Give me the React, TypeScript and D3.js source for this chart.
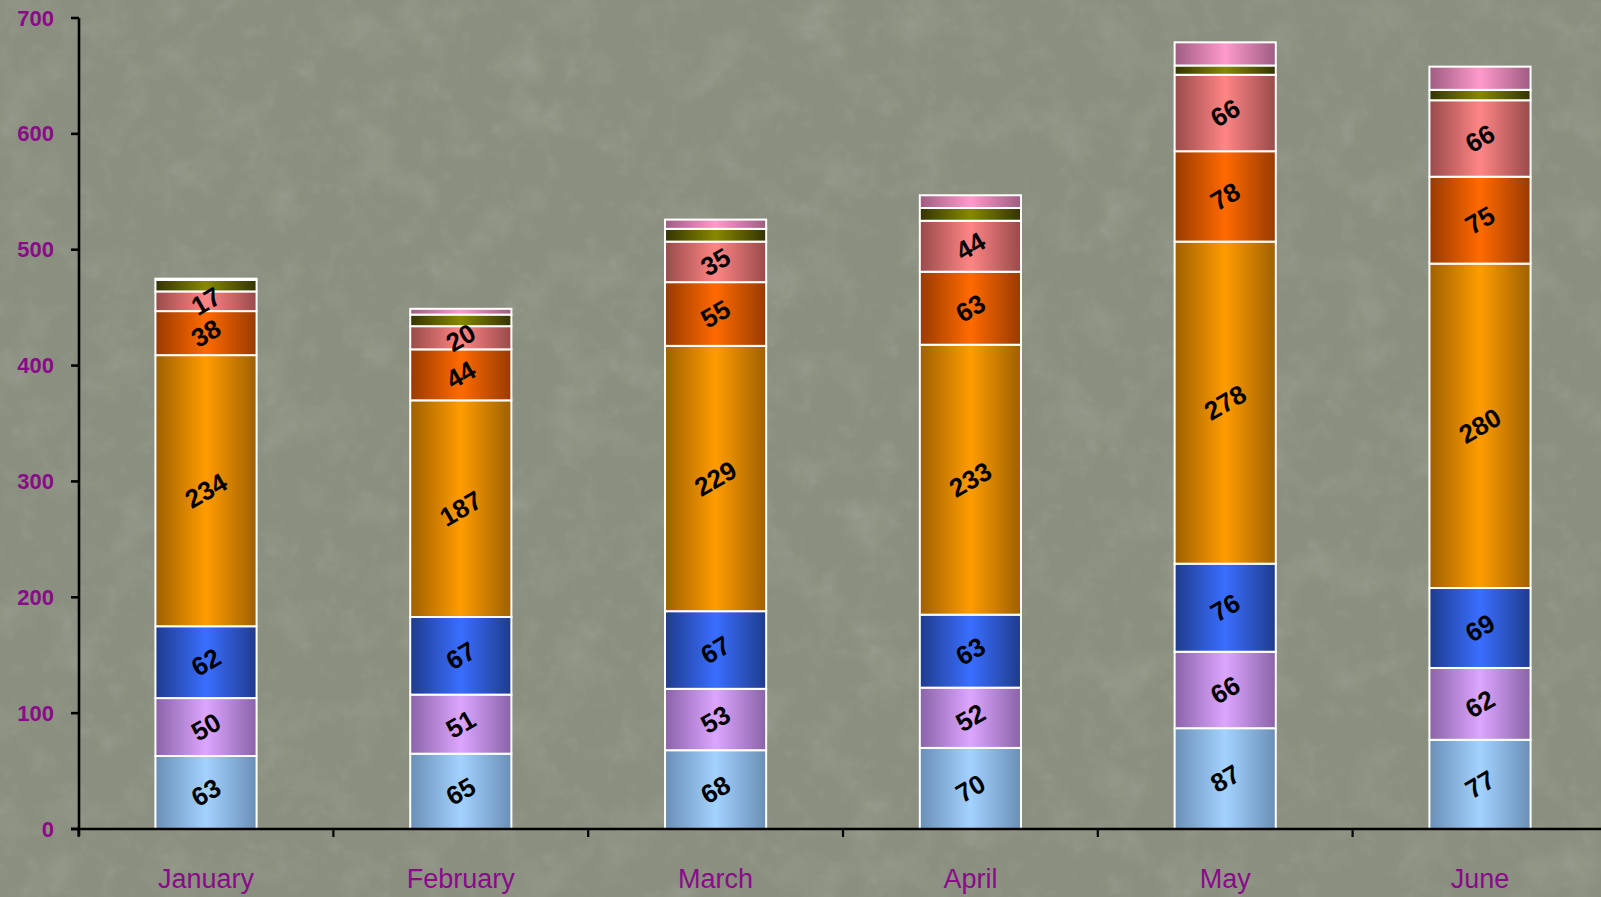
import React from 'react';
import * as d3 from 'd3';

const months = ['January', 'February', 'March', 'April', 'May', 'June'];
const seriesA = [63, 65, 68, 70, 87, 77];
const seriesB = [50, 51, 53, 52, 66, 62];
const seriesC = [62, 67, 67, 63, 76, 69];
const seriesD = [234, 187, 229, 233, 278, 280];
const seriesE = [38, 44, 55, 63, 78, 75];
const seriesF = [17, 20, 35, 44, 66, 66];
const seriesG = [10, 10, 11, 11, 8, 9];
const seriesH = [1, 5, 8, 11, 20, 20];
const yTicks = [0, 100, 200, 300, 400, 500, 600, 700];

const seriesList = [seriesA, seriesB, seriesC, seriesD, seriesE, seriesF, seriesG, seriesH];
const showLabel = [true, true, true, true, true, true, false, false];
const centerColors = ['#A3D2FF', '#DCA6FF', '#3A6EFF', '#FF9C00', '#FF6A00', '#FF8585', '#888800', '#FF9ACC'];
const edgeColors = ['#6A8FB6', '#8A63A8', '#1E3B8C', '#9E6000', '#983A00', '#984A4A', '#333300', '#9E5C80'];

const W = 1601;
const H = 897;

export default function App() {
  const y = d3.scaleLinear().domain([0, 700]).range([829, 18]);
  const x = d3
    .scaleBand<string>()
    .domain(months)
    .range([78.6, 1607.4])
    .paddingInner(0.603)
    .paddingOuter(0.3015);
  const xb = d3.scaleBand<string>().domain(months).range([78.6, 1607.4]).padding(0);
  const boundaries = [...months.map((m) => xb(m) as number), 1607.4];

  const rows = months.map((m, i) => {
    const obj: Record<string, number | string> = { month: m };
    seriesList.forEach((s, k) => (obj['s' + k] = s[i]));
    return obj;
  });
  const stack = d3.stack<any>().keys(seriesList.map((_, k) => 's' + k));
  const stacked = stack(rows as any);

  return (
    <svg
      width={W}
      height={H}
      style={{ position: 'absolute', left: 0, top: 0, display: 'block' }}
      fontFamily="'Liberation Sans', Arial, sans-serif"
    >
      <defs>
        {centerColors.map((c, k) => (
          <linearGradient key={k} id={'g' + k} x1="0" x2="1" y1="0" y2="0">
            <stop offset="0" stopColor={edgeColors[k]} />
            <stop offset="0.5" stopColor={c} />
            <stop offset="1" stopColor={edgeColors[k]} />
          </linearGradient>
        ))}
        <filter id="tex" x="0" y="0" width="100%" height="100%">
          <feTurbulence type="fractalNoise" baseFrequency="0.02" numOctaves="5" seed="7" result="n" />
          <feColorMatrix
            in="n"
            type="matrix"
            values="0 0 0 0 0.44  0 0 0 0 0.46  0 0 0 0 0.40  1.4 0 0 0 -0.66"
          />
        </filter>
        <filter id="tex2" x="0" y="0" width="100%" height="100%">
          <feTurbulence type="fractalNoise" baseFrequency="0.05" numOctaves="3" seed="3" result="n" />
          <feColorMatrix
            in="n"
            type="matrix"
            values="0 0 0 0 0.62  0 0 0 0 0.64  0 0 0 0 0.58  1.2 0 0 0 -0.66"
          />
        </filter>
      </defs>
      <rect x={0} y={0} width={W} height={H} fill="#8A8F7F" />
      <rect x={0} y={0} width={W} height={H} filter="url(#tex)" opacity={0.45} />
      <rect x={0} y={0} width={W} height={H} filter="url(#tex2)" opacity={0.22} />

      {stacked.map((layer, k) => (
        <g key={k}>
          {layer.map((d, i) => {
            const x0 = x(months[i]) as number;
            const bw = x.bandwidth();
            const yTop = y(d[1]);
            const yBot = y(d[0]);
            return (
              <rect
                key={i}
                x={x0}
                y={yTop}
                width={bw}
                height={Math.max(0, yBot - yTop)}
                fill={`url(#g${k})`}
                stroke="#ffffff"
                strokeWidth={2}
              />
            );
          })}
        </g>
      ))}

      {stacked.map((layer, k) =>
        showLabel[k] ? (
          <g key={'l' + k}>
            {layer.map((d, i) => {
              const cx = (x(months[i]) as number) + x.bandwidth() / 2;
              const cy = (y(d[0]) + y(d[1])) / 2;
              return (
                <text
                  key={i}
                  transform={`translate(${cx},${cy}) rotate(-30)`}
                  textAnchor="middle"
                  dominantBaseline="central"
                  fontSize={26}
                  fontWeight="bold"
                  fill="#000000"
                >
                  {seriesList[k][i]}
                </text>
              );
            })}
          </g>
        ) : null
      )}

      {/* y axis */}
      <line x1={79} x2={79} y1={y(700)} y2={836} stroke="#000" strokeWidth={2.6} />
      {yTicks.map((t) => (
        <g key={t}>
          <line x1={71} x2={79} y1={y(t)} y2={y(t)} stroke="#000" strokeWidth={2.6} />
          <text
            x={54}
            y={y(t)}
            textAnchor="end"
            dominantBaseline="central"
            fontSize={22}
            fontWeight="bold"
            fill="#8A0A8A"
          >
            {t}
          </text>
        </g>
      ))}

      {/* x axis */}
      <line x1={71} x2={W} y1={y(0)} y2={y(0)} stroke="#000" strokeWidth={2.6} />
      {boundaries.map((b, i) => (
        <line key={i} x1={b} x2={b} y1={y(0)} y2={y(0) + 8} stroke="#000" strokeWidth={2.2} />
      ))}
      {months.map((m) => (
        <text
          key={m}
          x={(x(m) as number) + x.bandwidth() / 2}
          y={888}
          textAnchor="middle"
          fontSize={27}
          fill="#8A0A8A"
        >
          {m}
        </text>
      ))}
    </svg>
  );
}
